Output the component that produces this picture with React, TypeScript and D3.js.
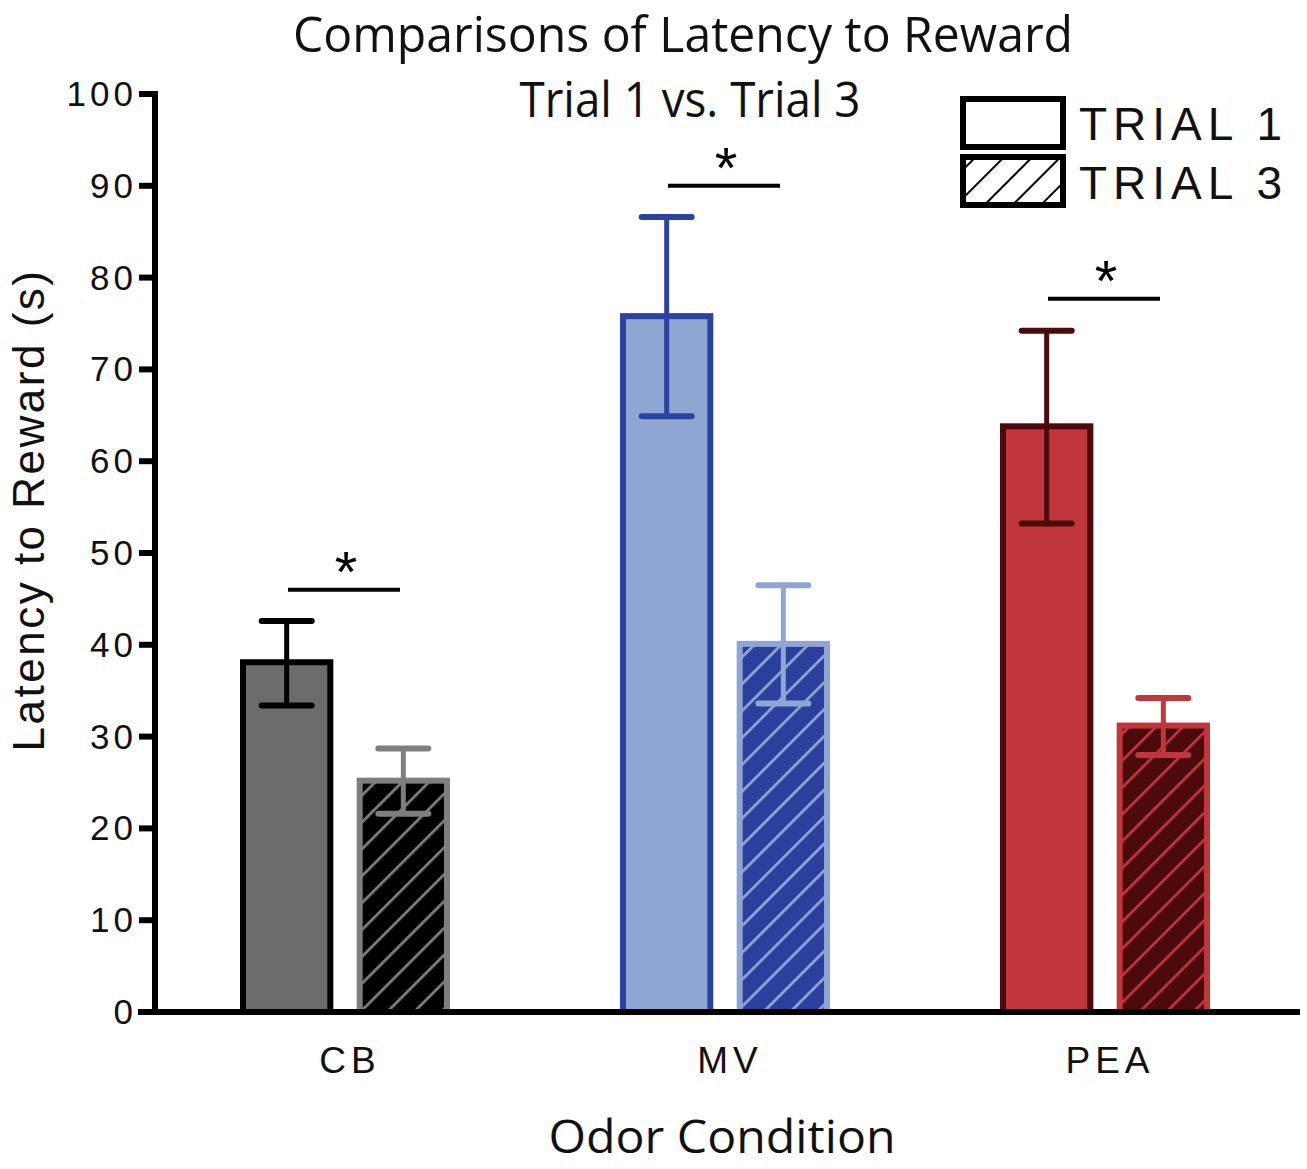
import React from "react";
import * as d3 from "d3";

const categories = ["CB", "MV", "PEA"];
const trial1 = [38.1, 75.8, 63.8];
const trial1ErrHi = [42.6, 86.6, 74.2];
const trial1ErrLo = [33.4, 64.9, 53.2];
const trial3 = [25.2, 40.1, 31.2];
const trial3ErrHi = [28.7, 46.5, 34.2];
const trial3ErrLo = [21.6, 33.6, 28.0];
const yTicks = [0, 10, 20, 30, 40, 50, 60, 70, 80, 90, 100];
const sigLevel = [46, 90, 77.7];

const fill1 = ["#6c6c6c", "#8fa6d3", "#c1363a"];
const stroke1 = ["#000000", "#2a43a0", "#4b0a0c"];
const fill3 = ["#000000", "#2b3f9d", "#4b0a0c"];
const stroke3 = ["#7f7f7f", "#8fa6d3", "#c1363a"];

export default function App() {
  const W = 1307, H = 1169;
  const y = d3.scaleLinear().domain([0, 100]).range([1012, 94]);
  const xc = d3.scalePoint<string>().domain(categories).range([345, 1105]);
  const inner = d3.scaleBand<string>().domain(["t1", "t3"]).range([-105, 105]).paddingInner(0.2);
  const bw = inner.bandwidth();
  const sw = 6;
  const font = "'Open Sans', 'Liberation Sans', sans-serif";
  const arial = "'Liberation Sans', Arial, sans-serif";

  return (
    <svg width={W} height={H} style={{ display: "block", position: "absolute", left: 0, top: 0 }}>
      <defs>
        {categories.map((c, i) => (
          <pattern key={c} id={`hatch${i}`} patternUnits="userSpaceOnUse" width={19} height={19} patternTransform="rotate(45)">
            <rect width={19} height={19} fill={fill3[i]} />
            <line x1={0} y1={-1} x2={0} y2={20} stroke={stroke3[i]} strokeWidth={5.5} />
          </pattern>
        ))}
        <pattern id="hatchLegend" patternUnits="userSpaceOnUse" width={20} height={20} patternTransform="rotate(45)">
          <rect width={20} height={20} fill="#ffffff" />
          <line x1={0} y1={-1} x2={0} y2={21} stroke="#000" strokeWidth={4} />
        </pattern>
      </defs>
      <rect width={W} height={H} fill="#fff" />

      {/* title */}
      <text x={683} y={52} textAnchor="middle" fontFamily={font} fontSize={49} textLength={780} lengthAdjust="spacingAndGlyphs" fill="#111">Comparisons of Latency to Reward</text>
      <text x={690} y={117} textAnchor="middle" fontFamily={font} fontSize={49} textLength={341} lengthAdjust="spacingAndGlyphs" fill="#111">Trial 1 vs. Trial 3</text>

      {/* bars */}
      {categories.map((c, i) => {
        const cx = xc(c)!;
        const x1 = cx + inner("t1")!;
        const x3 = cx + inner("t3")!;
        const m1 = x1 + bw / 2, m3 = x3 + bw / 2;
        const cap = 25;
        return (
          <g key={c}>
            <line x1={m1} x2={m1} y1={y(trial1ErrHi[i])} y2={y(trial1[i])} stroke={stroke1[i]} strokeWidth={5} />
            <line x1={m1 - cap} x2={m1 + cap} y1={y(trial1ErrHi[i])} y2={y(trial1ErrHi[i])} stroke={stroke1[i]} strokeWidth={6} strokeLinecap="round" />
            <rect x={x1 + sw / 2} y={y(trial1[i])} width={bw - sw} height={y(0) - y(trial1[i])} fill={fill1[i]} stroke={stroke1[i]} strokeWidth={sw} />
            <line x1={m1} x2={m1} y1={y(trial1[i])} y2={y(trial1ErrLo[i])} stroke={stroke1[i]} strokeWidth={5} />
            <line x1={m1 - cap} x2={m1 + cap} y1={y(trial1ErrLo[i])} y2={y(trial1ErrLo[i])} stroke={stroke1[i]} strokeWidth={6} strokeLinecap="round" />

            <line x1={m3} x2={m3} y1={y(trial3ErrHi[i])} y2={y(trial3[i])} stroke={stroke3[i]} strokeWidth={5} />
            <line x1={m3 - cap} x2={m3 + cap} y1={y(trial3ErrHi[i])} y2={y(trial3ErrHi[i])} stroke={stroke3[i]} strokeWidth={6} strokeLinecap="round" />
            <rect x={x3 + sw / 2} y={y(trial3[i])} width={bw - sw} height={y(0) - y(trial3[i])} fill={`url(#hatch${i})`} stroke={stroke3[i]} strokeWidth={sw} />
            <line x1={m3} x2={m3} y1={y(trial3[i])} y2={y(trial3ErrLo[i])} stroke={stroke3[i]} strokeWidth={5} />
            <line x1={m3 - cap} x2={m3 + cap} y1={y(trial3ErrLo[i])} y2={y(trial3ErrLo[i])} stroke={stroke3[i]} strokeWidth={6} strokeLinecap="round" />

            {/* significance */}
            <line x1={cx - 57} x2={cx + 55} y1={y(sigLevel[i])} y2={y(sigLevel[i])} stroke="#000" strokeWidth={4} />
            <text x={cx + 1} y={y(sigLevel[i]) + 2} textAnchor="middle" fontFamily={arial} fontSize={58} fill="#000">*</text>

            <text x={cx + 5} y={1073} textAnchor="middle" fontFamily={arial} fontSize={37} letterSpacing={5} fill="#111">{c}</text>
          </g>
        );
      })}

      {/* axes */}
      <line x1={155} x2={155} y1={y(100) - 3} y2={y(0) + 3} stroke="#000" strokeWidth={6} />
      <line x1={138} x2={1300} y1={y(0)} y2={y(0)} stroke="#000" strokeWidth={6} />
      {yTicks.map(t => (
        <g key={t}>
          <line x1={139} x2={155} y1={y(t)} y2={y(t)} stroke="#000" strokeWidth={6} />
          <text x={137} y={y(t) + 12} textAnchor="end" fontFamily={arial} fontSize={35} letterSpacing={4} fill="#111">{t}</text>
        </g>
      ))}

      <text x={722} y={1153} textAnchor="middle" fontFamily={font} fontSize={46} textLength={347} lengthAdjust="spacingAndGlyphs" fill="#111">Odor Condition</text>
      <text transform={`translate(44,510) rotate(-90)`} textAnchor="middle" fontFamily={arial} fontSize={44} letterSpacing={2.5} fill="#111">Latency to Reward (s)</text>

      {/* legend */}
      <rect x={963} y={99} width={100} height={48} fill="#fff" stroke="#000" strokeWidth={6} />
      <rect x={963} y={157} width={100} height={48} fill="url(#hatchLegend)" stroke="#000" strokeWidth={6} />
      <text x={1079} y={140} fontFamily={arial} fontSize={46} letterSpacing={6} fill="#111">TRIAL 1</text>
      <text x={1079} y={199} fontFamily={arial} fontSize={46} letterSpacing={6} fill="#111">TRIAL 3</text>
    </svg>
  );
}
